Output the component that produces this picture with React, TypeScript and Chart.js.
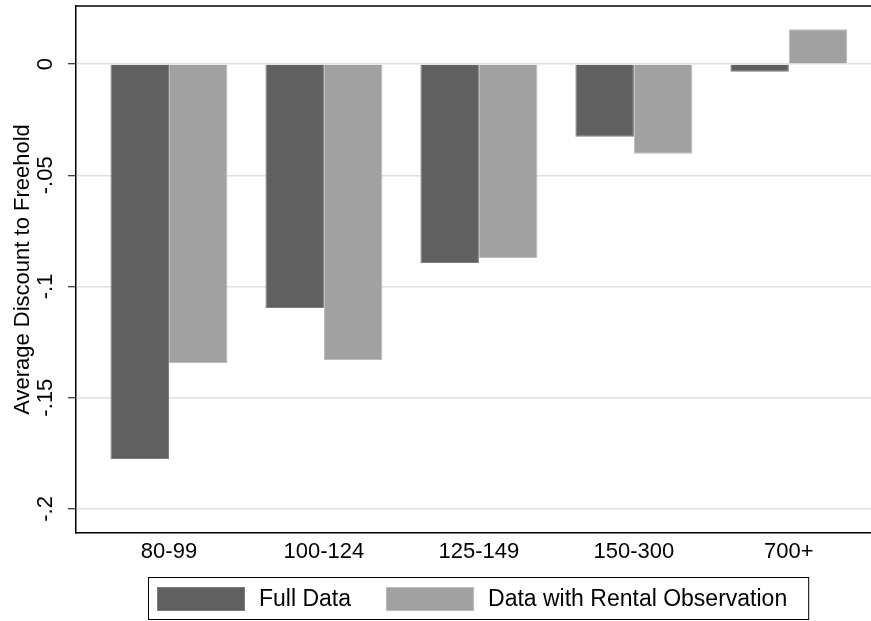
import React, { useEffect, useRef } from "react";
import { Chart, registerables } from "chart.js";

Chart.register(...registerables);

const categories = ["80-99", "100-124", "125-149", "150-300", "700+"];
const seriesLabels = ["Full Data", "Data with Rental Observation"];
const fullData = [-0.1775, -0.1097, -0.0894, -0.0327, -0.0035];
const rentalData = [-0.1344, -0.133, -0.0872, -0.0403, 0.0156];
const yTickValues = [-0.2, -0.15, -0.1, -0.05, 0];
const yTickLabels = ["-.2", "-.15", "-.1", "-.05", "0"];
const yAxisTitle = "Average Discount to Freehold";

const FONT_FAMILY = '"Liberation Sans", Arial, Helvetica, sans-serif';
const DARK = "#606060";
const LIGHT = "#a1a1a1";

const framePlugin = {
  id: "frameTop",
  afterDraw(chart: any) {
    const { ctx, chartArea } = chart;
    ctx.save();
    ctx.strokeStyle = "#000";
    ctx.lineWidth = 1.5;
    ctx.beginPath();
    ctx.moveTo(chartArea.left, chartArea.top);
    ctx.lineTo(chartArea.right, chartArea.top);
    ctx.stroke();
    ctx.restore();
  },
};

const boxLegendPlugin = {
  id: "boxLegend",
  afterDraw(chart: any) {
    const { ctx, chartArea } = chart;
    ctx.save();
    ctx.font = `23px ${FONT_FAMILY}`;
    const sw = 88;
    const sh = 24;
    const gapText = 14;
    const gapItem = 35;
    const padL = 9;
    const padR = 21;
    const items = chart.data.datasets.map((ds: any) => ({
      label: ds.label as string,
      color: ds.backgroundColor as string,
      border: ds.borderColor as string,
      w: ctx.measureText(ds.label).width,
    }));
    let total = padL + padR;
    items.forEach((it: any, i: number) => {
      total += sw + gapText + it.w + (i > 0 ? gapItem : 0);
    });
    const cx = (chartArea.left + chartArea.right) / 2 + 5;
    const x = Math.round(cx - total / 2);
    const top = chart.height - 44;
    const boxH = 42;
    ctx.strokeStyle = "#000";
    ctx.lineWidth = 1;
    ctx.strokeRect(x + 0.5, top + 0.5, total, boxH);
    let cur = x + padL;
    const sy = top + 10;
    items.forEach((it: any, i: number) => {
      if (i > 0) cur += gapItem;
      ctx.fillStyle = it.color;
      ctx.fillRect(cur, sy, sw, sh);
      ctx.strokeStyle = it.border;
      ctx.strokeRect(cur + 0.5, sy + 0.5, sw - 1, sh - 1);
      cur += sw + gapText;
      ctx.fillStyle = "#000";
      ctx.textBaseline = "middle";
      ctx.textAlign = "left";
      ctx.fillText(it.label, cur, sy + sh / 2 + 1);
      cur += it.w;
    });
    ctx.restore();
  },
};

export default function App() {
  const ref = useRef<HTMLCanvasElement | null>(null);

  useEffect(() => {
    if (!ref.current) return;
    const chart = new Chart(ref.current, {
      type: "bar",
      data: {
        datasets: [
          {
            label: seriesLabels[0],
            data: categories.map((_, i) => ({ x: i, y: fullData[i] })),
            backgroundColor: DARK,
            borderColor: "#7a7a7a",
            borderWidth: 1,
          },
          {
            label: seriesLabels[1],
            data: categories.map((_, i) => ({ x: i, y: rentalData[i] })),
            backgroundColor: LIGHT,
            borderColor: "#bcbcbc",
            borderWidth: 1,
          },
        ],
      },
      options: {
        animation: false,
        responsive: false,
        datasets: { bar: { categoryPercentage: 0.755, barPercentage: 1 } },
        layout: { padding: { top: 6, bottom: 44, left: 0, right: 0 } },
        plugins: { legend: { display: false }, tooltip: { enabled: false } },
        scales: {
          x: {
            type: "linear",
            min: -0.6,
            max: 4.53,
            offset: false,
            grid: { display: false, drawTicks: false },
            border: { display: true, color: "#000", width: 1.5 },
            ticks: {
              font: { family: FONT_FAMILY, size: 22 },
              color: "#000",
              padding: 6,
              autoSkip: false,
              maxRotation: 0,
              callback: (v: any) => categories[v as number] ?? "",
            },
            afterBuildTicks: (s: any) => {
              s.ticks = categories.map((_, i) => ({ value: i }));
            },
            afterFit: (s: any) => {
              s.height = 44;
              s.paddingLeft = 0;
              s.paddingRight = 0;
            },
          },
          y: {
            type: "linear",
            min: -0.2108,
            max: 0.0261,
            grid: {
              color: "#e0e0e0",
              lineWidth: 1.5,
              tickColor: "#000",
              tickLength: 8,
              tickWidth: 1,
            },
            border: { display: true, color: "#000", width: 1.5 },
            ticks: {
              font: { family: FONT_FAMILY, size: 22 },
              color: "#000",
              padding: 3,
              minRotation: 90,
              maxRotation: 90,
              crossAlign: "center",
              callback: (v: any) => {
                const idx = yTickValues.indexOf(v as number);
                return idx >= 0 ? yTickLabels[idx] : "";
              },
            },
            afterBuildTicks: (s: any) => {
              s.ticks = yTickValues.map((v) => ({ value: v }));
            },
            afterFit: (s: any) => {
              s.width = 76;
              s.paddingTop = 0;
              s.paddingBottom = 0;
            },
            title: {
              display: true,
              text: yAxisTitle,
              color: "#000",
              font: { family: FONT_FAMILY, size: 22 },
              padding: { top: 10, bottom: 0 },
            },
          },
        },
      },
      plugins: [framePlugin, boxLegendPlugin],
    } as any);
    return () => chart.destroy();
  }, []);

  return (
    <div style={{ position: "fixed", left: 0, top: 0, width: 871, height: 621, background: "#fff" }}>
      <canvas ref={ref} width={871} height={621} style={{ display: "block" }} />
    </div>
  );
}
